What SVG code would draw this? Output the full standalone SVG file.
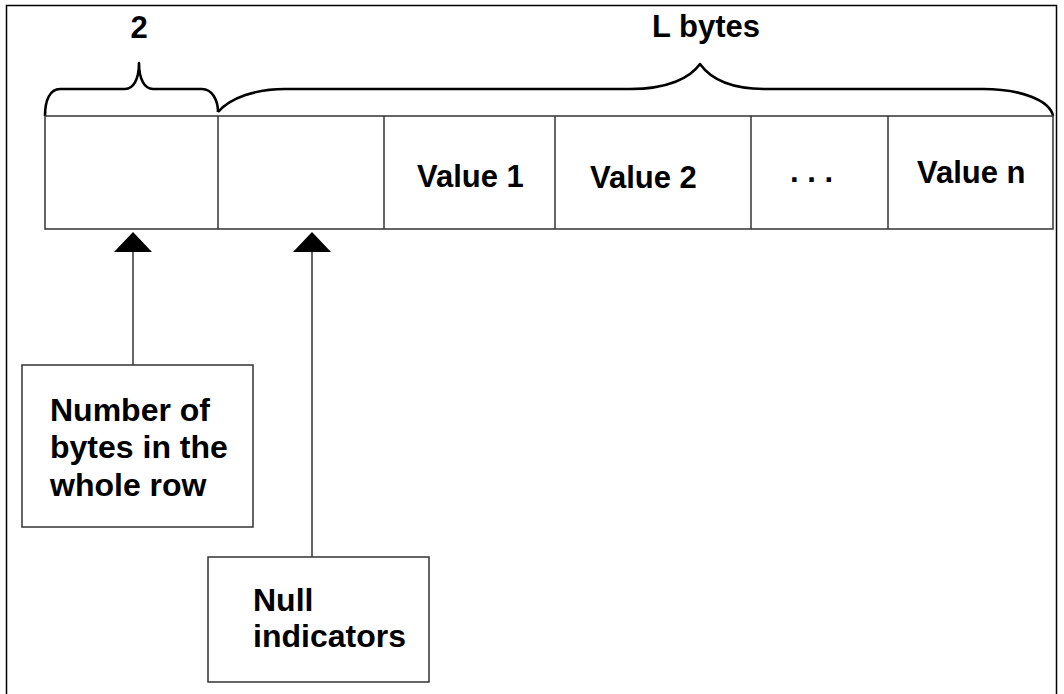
<svg xmlns="http://www.w3.org/2000/svg" width="1064" height="694" viewBox="0 0 1064 694">
<style>
.t{font-family:"Liberation Sans",Arial,sans-serif;font-weight:bold;font-size:31px;fill:#000}
.tb{font-size:32px}
.box{fill:#fff;stroke:#333;stroke-width:1.5}
.cell{fill:none;stroke:#333;stroke-width:1.5}
.brace{fill:none;stroke:#000;stroke-width:2.6;stroke-linejoin:round}
.conn{stroke:#333;stroke-width:1.5;fill:none}
</style>
<defs>
<marker id="ah" viewBox="0 0 20 38" refX="0" refY="19" markerWidth="20" markerHeight="38" orient="auto" markerUnits="userSpaceOnUse">
<path d="M0,0 L20,19 L0,38 z" fill="#000"/>
</marker>
</defs>
<rect x="0" y="0" width="1064" height="694" fill="#fff"/>
<rect x="6.5" y="5.5" width="1050" height="720" fill="none" stroke="#000" stroke-width="1.5"/>

<g id="braces">
<path class="brace" d="M45,116 C45,100 50,89 60,89 L125,89 C133,89 139,80 139,63 C139,80 145,89 153,89 L202,89 C212,89 218,100 218,112"/>
<path class="brace" d="M218,112 C230,98 255,89 285,89 L630,89 C668,89 690,78 700,64 C710,78 730,89 765,89 L983,89 C1020,89 1050,100 1053,116"/>
<text class="t" x="139" y="38" text-anchor="middle">2</text>
<text class="t" x="652" y="37">L bytes</text>
</g>

<g id="row">
<rect class="cell" x="45" y="116" width="1008" height="113"/>
<line class="cell" x1="218" y1="116" x2="218" y2="229"/>
<line class="cell" x1="384" y1="116" x2="384" y2="229"/>
<line class="cell" x1="555" y1="116" x2="555" y2="229"/>
<line class="cell" x1="751" y1="116" x2="751" y2="229"/>
<line class="cell" x1="888" y1="116" x2="888" y2="229"/>
<text class="t" x="417" y="187">Value 1</text>
<text class="t" x="590" y="188">Value 2</text>
<text class="t" x="790" y="182">. . .</text>
<text class="t" x="917" y="183">Value n</text>
</g>

<g id="box-count">
<rect class="box" x="22" y="365" width="231" height="162"/>
<text class="t tb" x="50" y="421">Number of</text>
<text class="t tb" x="50" y="458">bytes in the</text>
<text class="t tb" x="50" y="496">whole row</text>
</g>

<g id="box-null">
<rect class="box" x="208" y="557" width="221" height="125"/>
<text class="t tb" x="253" y="611">Null</text>
<text class="t tb" x="253" y="647">indicators</text>
</g>

<g id="connectors">
<line class="conn" x1="133" y1="365" x2="133" y2="252" marker-end="url(#ah)"/>
<line class="conn" x1="312" y1="557" x2="312" y2="252" marker-end="url(#ah)"/>
</g>
</svg>
